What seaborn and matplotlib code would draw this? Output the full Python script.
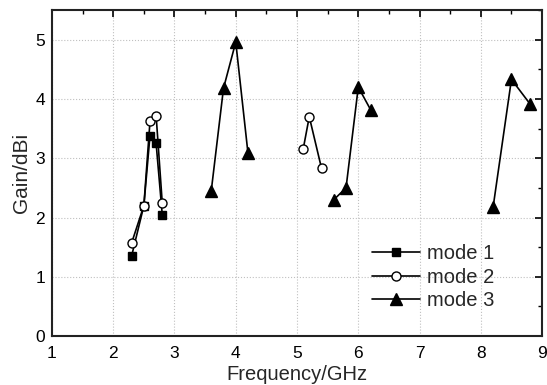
import numpy as np
import pandas as pd
import matplotlib
matplotlib.use("Agg")
import matplotlib.pyplot as plt
import seaborn as sns
from matplotlib.ticker import MultipleLocator

# Data
mode1_freq = [2.3, 2.5, 2.6, 2.7, 2.8]
mode1_gain = [1.35, 2.2, 3.38, 3.25, 2.05]

mode2_freq_a = [2.3, 2.5, 2.6, 2.7, 2.8]
mode2_gain_a = [1.57, 2.2, 3.62, 3.72, 2.25]
mode2_freq_b = [5.1, 5.2, 5.4]
mode2_gain_b = [3.15, 3.7, 2.83]

mode3_freq_a = [3.6, 3.8, 4.0, 4.2]
mode3_gain_a = [2.45, 4.18, 4.96, 3.08]
mode3_freq_b = [5.6, 5.8, 6.0, 6.2]
mode3_gain_b = [2.3, 2.5, 4.2, 3.82]
mode3_freq_c = [8.2, 8.5, 8.8]
mode3_gain_c = [2.17, 4.33, 3.92]

x_ticks = [1, 2, 3, 4, 5, 6, 7, 8, 9]
y_ticks = [0, 1, 2, 3, 4, 5]

sns.set_style("white")
plt.rcParams['font.family'] = ['Liberation Sans', 'DejaVu Sans']

fig = plt.figure(figsize=(5.47, 3.85), dpi=100)
ax = fig.add_axes([0.095, 0.127, 0.896, 0.847])

segments = [
    ("mode 1", mode1_freq, mode1_gain, dict(marker="s", markerfacecolor="black", markeredgecolor="black", markersize=6)),
    ("mode 2", mode2_freq_a, mode2_gain_a, dict(marker="o", markerfacecolor="white", markeredgecolor="black", markersize=6.5)),
    ("mode 2", mode2_freq_b, mode2_gain_b, dict(marker="o", markerfacecolor="white", markeredgecolor="black", markersize=6.5)),
    ("mode 3", mode3_freq_a, mode3_gain_a, dict(marker="^", markerfacecolor="black", markeredgecolor="black", markersize=8)),
    ("mode 3", mode3_freq_b, mode3_gain_b, dict(marker="^", markerfacecolor="black", markeredgecolor="black", markersize=8)),
    ("mode 3", mode3_freq_c, mode3_gain_c, dict(marker="^", markerfacecolor="black", markeredgecolor="black", markersize=8)),
]

seen = set()
for label, xs, ys, mk in segments:
    df = pd.DataFrame({"f": xs, "g": ys})
    lab = label if label not in seen else None
    seen.add(label)
    sns.lineplot(data=df, x="f", y="g", ax=ax, color="black", linewidth=1.2,
                 label=lab, markeredgewidth=1.0, **mk)

ax.set_xlim(1, 9)
ax.set_ylim(0, 5.5)
ax.set_xticks(x_ticks)
ax.set_yticks(y_ticks)
ax.xaxis.set_minor_locator(MultipleLocator(0.5))
ax.yaxis.set_minor_locator(MultipleLocator(0.5))
ax.tick_params(which="both", direction="in", top=True, right=True, labelsize=12.5, colors="black")
ax.tick_params(which="major", length=5, width=1.2)
ax.tick_params(which="minor", length=3, width=1.0)
ax.tick_params(axis="x", which="major", pad=7)
ax.tick_params(axis="y", which="major", pad=5)
ax.grid(True, which="major", linestyle=":", color="#c0c0c0", linewidth=0.8)
for s in ax.spines.values():
    s.set_linewidth(1.5)
    s.set_color("#222222")

ax.set_xlabel("Frequency/GHz", fontsize=14.5, labelpad=3)
ax.set_ylabel("Gain/dBi", fontsize=15, labelpad=3)

leg = ax.legend(loc="lower left", bbox_to_anchor=(0.652, 0.08), frameon=False, fontsize=14.5,
                handlelength=2.4, handletextpad=0.35, labelspacing=0.22, borderpad=0,
                borderaxespad=0)

fig.savefig("out.png", dpi=100)
